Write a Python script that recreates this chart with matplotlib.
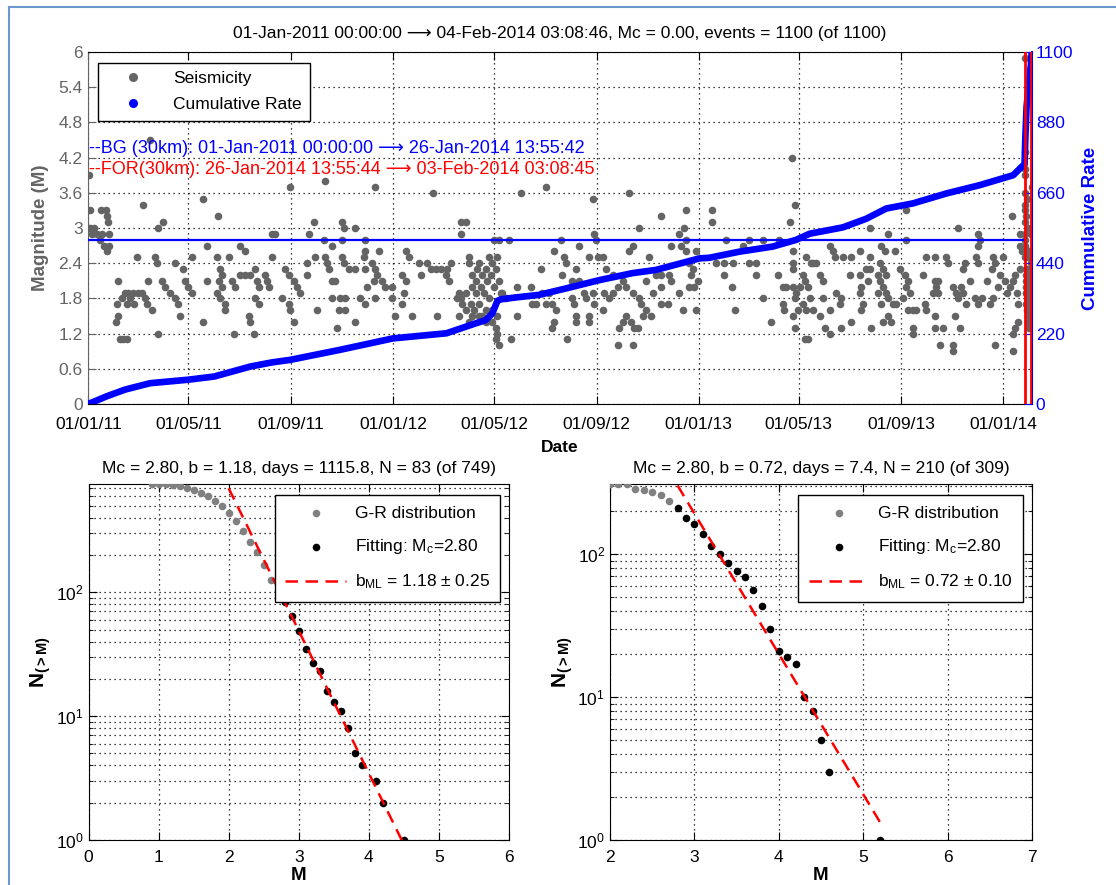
import numpy as np
import matplotlib.pyplot as plt
import matplotlib.dates as mdates
from matplotlib.lines import Line2D
from matplotlib.ticker import FuncFormatter, LogLocator, NullFormatter
from datetime import datetime

plt.rcParams['font.family'] = ['Liberation Sans', 'DejaVu Sans']
plt.rcParams['mathtext.fontset'] = 'custom'
plt.rcParams['mathtext.rm'] = 'Liberation Sans'
plt.rcParams['mathtext.it'] = 'Liberation Sans:italic'
plt.rcParams['mathtext.bf'] = 'Liberation Sans:bold'

# ---- seismicity (days after 01-Jan-2011, magnitude) ----
days_a = [1, 74, 2, 15, 21, 22, 24, 2, 7, 11, 16, 25, 4, 14, 19, 25, 22, 66, 89, 83, 138, 155, 142,
          58, 80, 82, 104, 114, 124, 154, 168, 182, 188, 220, 220, 36, 72, 88, 92, 98, 104, 108,
          116, 120, 124, 142, 158, 160, 156, 160, 154, 158, 164, 164, 172, 176, 182, 188, 194,
          200, 202, 204, 200, 204, 212, 214, 216, 34, 36, 33, 40, 44, 48, 54, 60, 64, 68, 70, 76,
          46, 50, 55, 38, 42, 46, 84, 110, 138, 174, 198, 192, 194]
mags_a = [3.9, 4.5, 3.3, 3.3, 3.3, 3.2, 3.1, 3.0, 3.0, 2.9, 2.9, 2.9, 2.9, 2.8, 2.7, 2.7, 2.6, 3.4, 3.1, 3.0, 3.5, 3.2, 2.7,
          2.5, 2.5, 2.4, 2.4, 2.3, 2.5, 2.5, 2.5, 2.7, 2.6, 2.9, 2.5, 2.1, 2.1, 2.1, 2.0, 1.9, 1.8, 1.7,
          2.1, 2.0, 1.9, 2.1, 2.3, 2.2, 2.1, 2.0, 1.9, 1.8, 1.7, 1.6, 2.1, 2.0, 2.2, 2.2, 2.2,
          2.3, 2.1, 2.0, 1.8, 1.7, 2.2, 2.1, 2.0, 1.7, 1.5, 1.4, 1.8, 1.9, 1.9, 1.9, 1.9, 1.9, 1.8, 1.7, 1.6,
          1.7, 1.8, 1.7, 1.1, 1.1, 1.1, 1.2, 1.5, 1.4, 1.2, 1.2, 1.5, 1.4]

days_b = [242, 283, 344, 413, 270, 304, 306, 320, 264, 282, 292, 304, 331, 446, 446, 224, 331, 348,
          330, 380, 384, 272, 284, 304, 306, 262, 286, 288, 320, 312, 332, 340, 344, 396, 406, 410,
          416, 422, 430, 428, 432, 434, 236, 240, 246, 250, 254, 262, 292, 296, 334, 342, 346, 352,
          356, 364, 376, 380, 398, 232, 240, 242, 246, 274, 292, 302, 308, 300, 308, 298, 320, 326,
          332, 344, 364, 378, 376, 368, 388, 418, 444, 446, 448, 444, 442]
mags_b = [3.7, 3.8, 3.7, 3.6, 3.1, 3.1, 3.0, 3.0, 2.9, 2.8, 2.7, 2.8, 2.8, 3.1, 2.9, 2.9, 2.6, 2.6,
          2.5, 2.6, 2.5, 2.5, 2.5, 2.5, 2.4, 2.4, 2.4, 2.3, 2.3, 2.3, 2.3, 2.4, 2.3, 2.4, 2.4, 2.3,
          2.3, 2.3, 2.3, 2.2, 2.1, 2.4, 2.3, 2.2, 2.1, 2.0, 1.9, 2.2, 2.1, 2.1, 2.0, 2.1, 2.2, 2.1,
          2.0, 2.0, 2.2, 2.1, 2.2, 1.8, 1.7, 1.6, 1.4, 1.6, 1.8, 1.8, 1.8, 1.6, 1.6, 1.3, 1.4, 1.8,
          1.7, 1.8, 1.8, 1.9, 1.7, 1.5, 1.5, 1.5, 1.9, 1.8, 1.7, 1.5, 1.8]

days_c = [518, 548, 605, 648, 452, 606, 608, 660, 486, 492, 504, 566, 588, 558, 648, 652, 570, 572,
          600, 610, 616, 620, 584, 542, 568, 580, 588, 530, 514, 628, 640, 644, 672, 668,
          456, 456, 460, 464, 468, 472, 476, 480, 484, 488, 492, 496, 500, 452, 458, 462, 468, 472,
          476, 480, 484, 490, 488, 490, 488, 492, 506, 460, 456, 452, 474, 470, 464, 478, 486, 482,
          466, 490, 494, 460, 476, 484, 468, 514, 544, 548, 552, 556, 560, 558, 556, 532, 536, 574,
          584, 584, 600, 600, 580, 582, 594, 596, 604, 606, 616, 624, 636, 640, 644, 650, 654, 658,
          634, 652, 660, 662, 664, 668, 674, 676, 618, 628, 634, 652]
mags_c = [3.6, 3.7, 3.5, 3.6, 3.1, 2.9, 2.8, 3.0, 2.8, 2.8, 2.8, 2.8, 2.7, 2.6, 2.6, 2.7, 2.5, 2.4,
          2.5, 2.5, 2.5, 2.3, 2.3, 2.3, 2.2, 2.1, 2.1, 2.0, 2.0, 2.2, 2.1, 2.0, 2.5, 2.1,
          2.5, 2.4, 2.2, 2.1, 2.4, 2.2, 2.3, 2.5, 2.4, 2.3, 2.1, 1.9, 1.8, 1.9, 1.7, 1.6, 1.5, 1.5,
          1.6, 1.8, 1.6, 1.5, 1.3, 1.2, 1.1, 1.0, 1.1, 1.5, 1.4, 1.6, 1.9, 2.0, 1.9, 2.1, 2.0, 2.2,
          2.3, 2.5, 1.9, 2.0, 1.4, 1.4, 1.7, 1.5, 1.9, 1.7, 1.9, 1.7, 1.6, 1.4, 1.3, 1.7, 1.7, 1.1,
          1.5, 1.4, 1.5, 1.4, 1.8, 1.7, 1.9, 1.8, 1.9, 1.7, 1.6, 1.8, 1.3, 1.4, 1.5, 1.4, 1.3, 1.3,
          1.0, 1.0, 1.8, 1.7, 1.5, 1.6, 1.5, 1.9, 1.9, 1.9, 2.0, 1.9]

days_d = [843, 847, 841, 686, 716, 747, 747, 714, 716, 708, 698, 710, 716, 764, 792, 808, 828, 784,
          728, 752, 762, 772, 792, 800, 720, 724, 722, 680, 686, 696, 698, 686, 730, 726, 720, 762,
          800, 826, 771, 708, 686, 694, 712, 728, 775, 808, 818,
          832, 836, 844, 848, 852, 856, 858, 862, 864, 856, 850, 846, 844, 846, 832, 834, 858, 862,
          844, 844, 844, 860, 866, 868, 872, 876, 880, 888, 892, 894, 896, 902, 904, 880, 888, 876,
          868, 860, 882, 888, 902, 900]
mags_d = [4.2, 3.4, 3.1, 3.2, 3.3, 3.3, 3.1, 3.0, 2.8, 2.9, 2.7, 2.7, 2.6, 2.8, 2.8, 2.8, 2.8, 2.7,
          2.6, 2.4, 2.4, 2.4, 2.4, 2.4, 2.4, 2.3, 2.2, 2.2, 2.2, 2.2, 2.1, 2.0, 2.1, 2.0, 2.0, 2.2,
          2.2, 2.2, 2.0, 1.9, 1.7, 1.7, 1.6, 1.6, 1.6, 1.8, 1.4,
          2.0, 2.0, 2.0, 1.9, 2.0, 2.2, 2.1, 2.0, 1.8, 1.7, 1.6, 1.8, 1.5, 1.3, 1.7, 1.6, 1.1, 1.1,
          2.6, 2.4, 2.3, 2.5, 2.4, 2.4, 2.4, 2.2, 2.1, 2.7, 2.6, 2.5, 1.9, 1.8, 2.5, 1.8, 1.6, 1.5,
          1.6, 1.6, 1.3, 1.2, 1.3, 1.7]

days_e = [980, 1106, 1042, 936, 958, 1066, 1068, 1066, 1116, 1116, 1118, 980, 950, 954, 966, 924,
          936, 914, 1004, 1014, 1028, 1030, 1048, 1050, 1064, 1066, 1084, 1086, 1082, 1096, 912, 924,
          932, 936, 934, 926, 924, 928, 926, 948, 952, 946, 956, 948, 952, 956, 946, 958, 950, 972,
          978, 982, 980, 984, 976, 964, 968, 982, 988, 992, 1000, 1014, 1018, 1016, 1012, 1018, 1036,
          1040, 1042, 1046, 1048, 1052, 1056, 1062, 1066, 1070, 1076, 1080, 1084, 1090, 1092, 1098,
          1100, 1104, 1108, 1110, 1112, 1114, 1116, 914, 938, 952, 958, 962, 988, 988, 1014, 1024,
          1002, 1004, 1014, 1038, 1044, 1020, 1036, 1036, 1086, 1108, 1110, 1114, 1108]
mags_e = [3.3, 3.2, 3.0, 3.0, 2.9, 2.9, 2.8, 2.7, 2.9, 2.7, 2.6, 2.8, 2.7, 2.6, 2.6, 2.6,
          2.5, 2.5, 2.5, 2.5, 2.5, 2.4, 2.3, 2.4, 2.5, 2.4, 2.5, 2.4, 2.3, 2.5, 2.2, 2.2,
          2.3, 2.3, 2.1, 2.0, 1.9, 1.7, 1.6, 2.4, 2.3, 2.2, 2.2, 2.1, 2.0, 1.9, 1.9, 1.8, 1.7, 2.3,
          2.2, 2.1, 2.0, 1.9, 1.8, 1.7, 1.7, 1.6, 1.6, 1.6, 2.2, 2.1, 2.1, 2.0, 1.9, 1.9, 2.0,
          1.9, 1.8, 2.0, 1.9, 1.7, 2.1, 1.8, 1.7, 1.8, 2.1, 1.7, 1.8, 2.0, 2.2, 2.1,
          1.9, 2.0, 2.1, 2.2, 1.9, 1.7, 2.3, 1.4, 1.3, 1.4, 1.5, 1.4, 1.3, 1.2, 1.3, 1.3,
          1.7, 1.6, 1.5, 1.5, 1.3, 1.0, 1.0, 0.9, 1.0, 1.2, 1.3, 1.4, 0.9]

# foreshock window (26-Jan-2014 .. 04-Feb-2014)
days_f = [1121.7, 1121.8, 1121.9, 1122.0, 1122.1, 1122.2, 1122.3, 1122.5, 1122.7, 1122.9, 1123.1,
          1123.4, 1123.7, 1124.0, 1124.4, 1124.8, 1125.3, 1125.8, 1126.4, 1127.0, 1127.6, 1128.2,
          1128.8, 1121.75, 1121.85, 1122.05, 1122.4, 1122.8, 1123.2, 1123.9, 1124.6, 1125.5, 1126.8,
          1128.0, 1129.4, 1129.7, 1130.0, 1129.9, 1129.5, 1126.0, 1127.3, 1124.2, 1123.0]
mags_f = [5.9, 4.3, 3.9, 3.6, 3.3, 3.1, 2.9, 2.7, 2.5, 2.3, 2.2,
          2.0, 1.9, 1.8, 1.7, 1.6, 1.5, 1.4, 1.6, 1.8, 2.0, 2.2,
          2.4, 4.0, 3.4, 2.8, 2.6, 2.1, 1.9, 1.7, 2.3, 2.5, 1.3,
          1.9, 2.1, 1.8, 2.4, 3.7, 2.9, 3.0, 2.6, 3.5, 3.2]

# cumulative number of events (right axis)
cum_days = [0, 22, 44, 74, 120, 151, 194, 220, 242, 301, 365, 429, 446, 464, 476, 484, 490, 494,
            512, 540, 572, 612, 652, 680, 732, 744, 780, 820, 848, 864, 904, 932, 956, 988, 1028,
            1068, 1108, 1118, 1121.6, 1122.5, 1124, 1128, 1129.1, 1130.1]
cum_count = [0, 24, 45, 65, 76, 86, 117, 130, 138, 169, 205, 221, 236, 252, 262, 283, 322, 327,
             333, 341, 361, 387, 409, 419, 455, 457, 476, 492, 513, 532, 552, 579, 611, 627, 658,
             684, 715, 741, 749, 830, 929, 1034, 1058, 1100]

# ---- Gutenberg-Richter, background ----
gr1_m = [0.9, 1.0, 1.1, 1.2, 1.3, 1.4, 1.5, 1.6, 1.7, 1.8, 1.9, 2.0, 2.1, 2.2, 2.3, 2.4, 2.5, 2.6, 2.7]
gr1_n = [749, 749, 749, 729, 716, 698, 672, 635, 597, 544, 495, 434, 378, 314, 257, 212, 166, 125, 100]
fit1_m = [2.8, 2.9, 3.0, 3.1, 3.2, 3.3, 3.4, 3.5, 3.6, 3.7, 3.8, 3.9, 4.1, 4.2, 4.5]
fit1_n = [83, 64, 49, 35, 27, 23, 16, 13, 11, 8, 5, 4, 3, 2, 1]
line1_m = [2.0, 4.5]
line1_n = [692, 0.92]

# ---- Gutenberg-Richter, foreshocks ----
gr2_m = [2.0, 2.1, 2.2, 2.3, 2.4, 2.5, 2.6, 2.7]
gr2_n = [309, 309, 309, 287, 279, 273, 258, 235]
fit2_m = [2.8, 2.9, 3.0, 3.1, 3.2, 3.3, 3.4, 3.5, 3.6, 3.7, 3.8, 3.9, 4.0, 4.1, 4.2, 4.3, 4.4, 4.5, 4.6, 5.2]
fit2_n = [210, 179, 163, 138, 114, 100, 87, 76, 69, 56, 43, 30, 21, 19, 17, 10, 8, 5, 3, 1]
line2_m = [2.8, 5.2]
line2_n = [302, 1.33]

GRAY = '#646464'
ARROW = '\u27f6'

t0 = mdates.date2num(datetime(2011, 1, 1))
t_bg_end = mdates.date2num(datetime(2014, 1, 26, 13, 55, 42))
t_for_end = mdates.date2num(datetime(2014, 2, 3, 3, 8, 45))
t_end = mdates.date2num(datetime(2014, 2, 4, 3, 8, 46))

ev_days = np.array(days_a + days_b + days_c + days_d + days_e + days_f) + t0
ev_mags = np.array(mags_a + mags_b + mags_c + mags_d + mags_e + mags_f)

fig = plt.figure(figsize=(11.16, 8.85), dpi=100)

# frame of the screenshot
fig.add_artist(Line2D([9 / 1116, 1], [1 - 7 / 885, 1 - 7 / 885], color='#6f97cf', lw=1.5))
fig.add_artist(Line2D([9 / 1116, 9 / 1116], [0, 1 - 7 / 885], color='#6f97cf', lw=1.5))

ax = fig.add_axes([88.3 / 1116, 1 - 404 / 885, 943.4 / 1116, 352 / 885])
ax.scatter(ev_days, ev_mags, s=30, color=GRAY, linewidths=0, zorder=3)
ax.plot([t0, t_bg_end], [2.8, 2.8], color='blue', lw=1.6, zorder=4)
ax.set_xlim(t0, t_end)
ax.set_ylim(0, 6)
ax.set_yticks(np.arange(0, 6.01, 0.6))
ax.yaxis.set_major_formatter(FuncFormatter(lambda v, p: '%g' % round(v, 1)))
ticks = [mdates.date2num(datetime(y, m, 1)) for y in (2011, 2012, 2013, 2014) for m in (1, 5, 9)
         if datetime(y, m, 1) <= datetime(2014, 1, 1)]
ax.set_xticks(ticks)
ax.xaxis.set_major_formatter(mdates.DateFormatter('%d/%m/%y'))
ax.grid(True, ls=(0, (1, 3)), color='k', lw=0.9)
ax.tick_params(direction='in', length=6, labelsize=12.5, top=True)
ax.tick_params(axis='x', pad=9)
ax.tick_params(axis='y', colors=GRAY, labelcolor=GRAY, pad=4)
ax.spines['left'].set_color(GRAY)
ax.spines['right'].set_visible(False)
ax.set_xlabel('Date', fontsize=12.5, fontweight='bold', labelpad=6)
ax.set_ylabel('Magnitude (M)', fontsize=13.5, fontweight='bold', color=GRAY, labelpad=7)
ax.set_title('01-Jan-2011 00:00:00 ' + ARROW + ' 04-Feb-2014 03:08:46, Mc = 0.00, events = 1100 (of 1100)',
             fontsize=12.5, pad=10)
ax.text(0.001, 0.727, '--BG (30km): 01-Jan-2011 00:00:00 ' + ARROW + ' 26-Jan-2014 13:55:42',
        transform=ax.transAxes, color='blue', fontsize=13, va='center', zorder=6)
ax.text(0.001, 0.665, '--FOR(30km): 26-Jan-2014 13:55:44 ' + ARROW + ' 03-Feb-2014 03:08:45',
        transform=ax.transAxes, color='red', fontsize=13, va='center', zorder=6)

ax2 = ax.twinx()
ax2.plot(np.array(cum_days) + t0, cum_count, color='blue', lw=4.8, solid_joinstyle='round',
         solid_capstyle='round', zorder=3)
ax2.axvline(t_bg_end, color='red', lw=2, zorder=5)
ax2.axvline(t_for_end, color='red', lw=2, zorder=5)
ax2.set_ylim(0, 1100)
ax2.set_yticks(np.arange(0, 1101, 220))
ax2.tick_params(direction='in', length=6, labelsize=12.5, colors='blue', pad=3)
for s in ('left', 'top', 'bottom'):
    ax2.spines[s].set_visible(False)
ax2.spines['right'].set_color('blue')
ax2.spines['right'].set_linewidth(1.5)
ax2.set_ylabel('Cummulative Rate', fontsize=13.5, fontweight='bold', color='blue', labelpad=6)
h = [Line2D([], [], ls='', marker='o', ms=5.5, color=GRAY),
     Line2D([], [], ls='', marker='o', ms=5.5, color='blue')]
leg = ax2.legend(h, ['Seismicity', 'Cumulative Rate'], loc='upper left',
                 bbox_to_anchor=(0.0106, 0.97), borderaxespad=0, fontsize=12.5, fancybox=False,
                 edgecolor='k', framealpha=1, handlelength=3.0, handletextpad=0.8,
                 labelspacing=0.6, borderpad=0.5)
leg.get_frame().set_linewidth(1.0)


def gr_panel(rect, gm, gn, fm, fn, lm, ln, xlim, ymax, title, blabel):
    b = fig.add_axes(rect)
    b.set_yscale('log')
    b.scatter(gm, gn, s=30, color='#808080', linewidths=0, zorder=3, label='G-R distribution')
    b.scatter(fm, fn, s=30, color='k', linewidths=0, zorder=3, label='Fitting: M$_\\mathrm{c}$=2.80')
    b.plot(lm, ln, color='red', lw=1.8, ls=(0, (5, 3)), zorder=4, label=blabel)
    b.set_xlim(*xlim)
    b.set_ylim(1, ymax)
    b.yaxis.set_major_locator(LogLocator(base=10))
    b.yaxis.set_minor_locator(LogLocator(base=10, subs=np.arange(2, 10)))
    b.yaxis.set_minor_formatter(NullFormatter())
    b.grid(True, which='major', ls=(0, (1, 3)), color='k', lw=0.9)
    b.grid(True, which='minor', axis='y', ls=(0, (1, 3)), color='k', lw=0.9)
    b.tick_params(which='both', direction='in', top=True, right=True, labelsize=12.5)
    b.tick_params(which='major', length=6)
    b.tick_params(axis='x', pad=7)
    b.tick_params(which='minor', length=3)
    b.set_xlabel('M', fontsize=13.5, fontweight='bold', labelpad=2)
    b.set_ylabel(r'$\mathbf{N_{(>M)}}$', fontsize=15, labelpad=2)
    b.set_title(title, fontsize=12.5, pad=8)
    lg = b.legend(loc='upper right', bbox_to_anchor=(0.979, 0.969), borderaxespad=0, fontsize=12.5,
                  fancybox=False, edgecolor='k', framealpha=1, handlelength=3.5,
                  handletextpad=0.5, labelspacing=0.95, borderpad=0.6, scatterpoints=1)
    lg.get_frame().set_linewidth(1.0)
    return b


gr_panel([88.5 / 1116, 1 - 840 / 885, 420.5 / 1116, 356 / 885], gr1_m, gr1_n, fit1_m, fit1_n,
         line1_m, line1_n, (0, 6), 749,
         'Mc = 2.80, b = 1.18, days = 1115.8, N = 83 (of 749)', 'b$_\\mathrm{ML}$ = 1.18 \u00b1 0.25')
gr_panel([610 / 1116, 1 - 840 / 885, 422 / 1116, 356 / 885], gr2_m, gr2_n, fit2_m, fit2_n,
         line2_m, line2_n, (2, 7), 309,
         'Mc = 2.80, b = 0.72, days = 7.4, N = 210 (of 309)', 'b$_\\mathrm{ML}$ = 0.72 \u00b1 0.10')

fig.savefig('out.png', dpi=100)
